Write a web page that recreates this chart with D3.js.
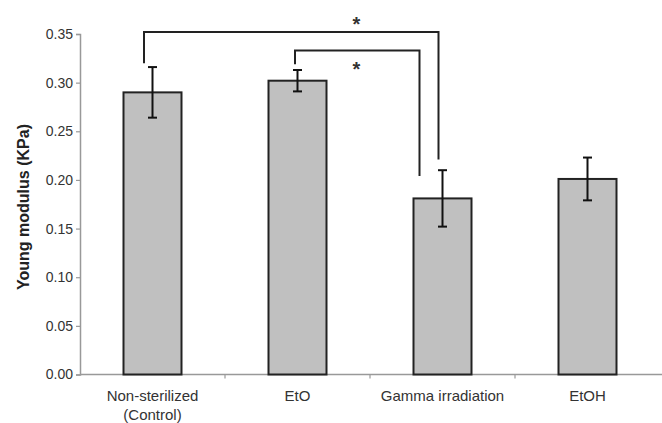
<!DOCTYPE html>
<html>
<head>
<meta charset="utf-8">
<script src="https://cdn.jsdelivr.net/npm/d3@7"></script>
<style>
    html, body { margin: 0; padding: 0; background: #fff; }
    svg { display: block; font-family: 'Liberation Sans', Arial, sans-serif; }
</style>
</head>
<body>
<svg class="main" width="662" height="423"></svg>
<script>
const categories = [['Non-sterilized', '(Control)'], ['EtO'], ['Gamma irradiation'], ['EtOH']],
    means = [0.29, 0.302, 0.181, 0.201],
    errors = [0.026, 0.011, 0.029, 0.022],
    yTicks = [0, 0.05, 0.10, 0.15, 0.20, 0.25, 0.30, 0.35],
    // significance brackets: from bar, to bar, top level, left foot, right foot
    brackets = [
        { from: 0, to: 2, top: 0.352, left: 0.32, right: 0.221 },
        { from: 1, to: 2, top: 0.333, left: 0.319, right: 0.204 }
    ];

const svg = d3.select('svg.main'),
    ink = '#222',
    axisGrey = '#999';

const x = d3.scaleBand()
    .domain(d3.range(categories.length))
    .range([80, 660])
    .paddingInner(0.6)
    .paddingOuter(0.3);

const y = d3.scaleLinear()
    .domain([0, 0.35])
    .range([374.5, 34]);

const cx = i => x(i) + x.bandwidth() / 2;

// y axis
const yAxis = svg.append('g')
    .attr('transform', 'translate(80,0)')
    .call(d3.axisLeft(y).tickValues(yTicks).tickFormat(d3.format('.2f')).tickSize(4).tickPadding(3));

yAxis.select('.domain').attr('stroke', axisGrey).attr('stroke-width', 1.5);
yAxis.selectAll('.tick line').attr('stroke', axisGrey).attr('stroke-width', 1.2);
yAxis.selectAll('.tick text')
    .attr('fill', '#333')
    .attr('font-size', 14)
    .attr('font-family', "'Liberation Sans', Arial, sans-serif");

// x axis, ticks on category boundaries
svg.append('line')
    .attr('x1', 80).attr('x2', 662)
    .attr('y1', y(0)).attr('y2', y(0))
    .attr('stroke', axisGrey)
    .attr('stroke-width', 1.5);

svg.selectAll('line.xtick')
    .data(d3.range(1, categories.length))
    .enter()
    .append('line')
    .classed('xtick', true)
    .attr('x1', d => x(d) - x.step() * x.paddingInner() / 2)
    .attr('x2', d => x(d) - x.step() * x.paddingInner() / 2)
    .attr('y1', y(0))
    .attr('y2', y(0) + 4)
    .attr('stroke', axisGrey)
    .attr('stroke-width', 1.2);

const labels = svg.selectAll('text.xlabel')
    .data(categories)
    .enter()
    .append('text')
    .classed('xlabel', true)
    .attr('x', (d, i) => cx(i))
    .attr('y', 401)
    .attr('text-anchor', 'middle')
    .attr('font-size', 15)
    .attr('fill', '#333');

labels.selectAll('tspan')
    .data(d => d)
    .enter()
    .append('tspan')
    .attr('x', function () { return d3.select(this.parentNode).attr('x'); })
    .attr('dy', (d, i) => i === 0 ? 0 : 19)
    .text(d => d);

// y label
svg.append('text')
    .attr('transform', 'translate(29,207) rotate(-90)')
    .attr('text-anchor', 'middle')
    .attr('font-size', 16)
    .attr('font-weight', 'bold')
    .attr('fill', '#222')
    .text('Young modulus (KPa)');

// bars
svg.selectAll('rect.bar')
    .data(means)
    .enter()
    .append('rect')
    .classed('bar', true)
    .attr('x', (d, i) => x(i))
    .attr('y', d => y(d))
    .attr('width', x.bandwidth())
    .attr('height', d => y(0) - y(d))
    .attr('fill', '#c0c0c0')
    .attr('stroke', ink)
    .attr('stroke-width', 2);

// error bars
const err = svg.selectAll('g.err')
    .data(means)
    .enter()
    .append('g')
    .classed('err', true)
    .attr('stroke', '#111')
    .attr('stroke-width', 2);

err.append('line')
    .attr('x1', (d, i) => cx(i)).attr('x2', (d, i) => cx(i))
    .attr('y1', (d, i) => y(d + errors[i]))
    .attr('y2', (d, i) => y(d - errors[i]));

err.append('line')
    .attr('x1', (d, i) => cx(i) - 4.5).attr('x2', (d, i) => cx(i) + 4.5)
    .attr('y1', (d, i) => y(d + errors[i])).attr('y2', (d, i) => y(d + errors[i]));

err.append('line')
    .attr('x1', (d, i) => cx(i) - 4.5).attr('x2', (d, i) => cx(i) + 4.5)
    .attr('y1', (d, i) => y(d - errors[i])).attr('y2', (d, i) => y(d - errors[i]));

// significance brackets
const offsets = [{ l: -8.5, r: -4 }, { l: -2.5, r: -23 }];

svg.selectAll('path.bracket')
    .data(brackets)
    .enter()
    .append('path')
    .classed('bracket', true)
    .attr('d', (d, i) => {
        const x1 = cx(d.from) + offsets[i].l,
            x2 = cx(d.to) + offsets[i].r;
        return 'M' + x1 + ',' + y(d.left) + 'V' + y(d.top) + 'H' + x2 + 'V' + y(d.right);
    })
    .attr('fill', 'none')
    .attr('stroke', ink)
    .attr('stroke-width', 2);

svg.selectAll('text.star')
    .data(brackets)
    .enter()
    .append('text')
    .classed('star', true)
    .attr('x', 356.5)
    .attr('y', (d, i) => i === 0 ? y(d.top) - 1 : y(d.top) + 25)
    .attr('text-anchor', 'middle')
    .attr('font-size', 20)
    .attr('font-weight', 'bold')
    .attr('fill', '#333')
    .text('*');
</script>
</body>
</html>
